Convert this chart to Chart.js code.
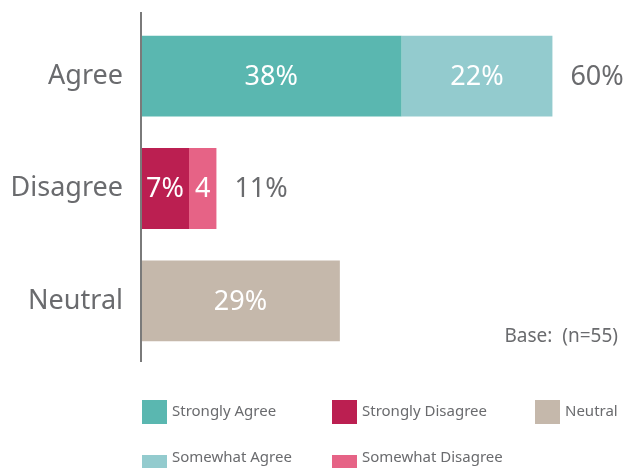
<!DOCTYPE html>
<html>
<head>
<meta charset="utf-8">
<script src="https://cdn.jsdelivr.net/npm/chart.js@4"></script>
<style>
    body { margin: 0; background: #fff; }
    #wrap { width: 638px; height: 468px; position: relative; }
</style>
</head>
<body>
<div id="wrap"><canvas id="chartAgree"></canvas></div>
<script>
const categories = ["Agree", "Disagree", "Neutral"];

// legend order (row by row): Strongly Agree, Strongly Disagree, Neutral, Somewhat Agree, Somewhat Disagree
const seriesNames = ["Strongly Agree", "Strongly Disagree", "Neutral", "Somewhat Agree", "Somewhat Disagree"];
const stronglyAgree = [38, null, null];
const stronglyDisagree = [null, 7, null];
const neutral = [null, null, 29];
const somewhatAgree = [22, null, null];
const somewhatDisagree = [null, 4, null];

// text shown inside each segment
const stronglyAgreeLabels = ["38%", "", ""];
const stronglyDisagreeLabels = ["", "7%", ""];
const neutralLabels = ["", "", "29%"];
const somewhatAgreeLabels = ["22%", "", ""];
const somewhatDisagreeLabels = ["", "4", ""];

// total shown after the bar
const totalLabels = ["60%", "11%", ""];
const baseNote = "Base:  (n=55)";

const greyText = "#6a6b6e";
const fontFamily = "'Noto Sans', 'Open Sans', sans-serif";

// stacking order inside a row: strong first, then somewhat
const datasets = [
    {label: seriesNames[0], data: stronglyAgree, segLabels: stronglyAgreeLabels, backgroundColor: "#5ab7b0", legendSlot: 0},
    {label: seriesNames[3], data: somewhatAgree, segLabels: somewhatAgreeLabels, backgroundColor: "#93cbce", legendSlot: 3},
    {label: seriesNames[1], data: stronglyDisagree, segLabels: stronglyDisagreeLabels, backgroundColor: "#bb1f51", legendSlot: 1},
    {label: seriesNames[4], data: somewhatDisagree, segLabels: somewhatDisagreeLabels, backgroundColor: "#e66386", legendSlot: 4},
    {label: seriesNames[2], data: neutral, segLabels: neutralLabels, backgroundColor: "#c5b8ab", legendSlot: 2},
];
datasets.forEach(function (ds) {
    ds.categoryPercentage = 1.0;
    ds.barPercentage = 0.72;
    ds.borderWidth = 0;
});

const labelPlugin = {
    id: "barText",
    afterDatasetsDraw: function (chart) {
        const ctx = chart.ctx;
        const area = chart.chartArea;
        ctx.save();

        // axis line, a little longer than the plot area
        ctx.strokeStyle = "#7a7a7a";
        ctx.lineWidth = 2;
        ctx.beginPath();
        ctx.moveTo(area.left, area.top - 8);
        ctx.lineTo(area.left, area.bottom + 5);
        ctx.stroke();

        // segment labels
        ctx.font = "27px " + fontFamily;
        ctx.textBaseline = "middle";
        ctx.textAlign = "center";
        ctx.fillStyle = "#ffffff";
        let ends = [];
        chart.data.datasets.forEach(function (ds, d) {
            const meta = chart.getDatasetMeta(d);
            meta.data.forEach(function (bar, i) {
                if (ds.data[i] == null) {
                    return;
                }
                if (ends[i] == null || bar.x > ends[i].x) {
                    ends[i] = {x: bar.x, y: bar.y};
                }
                if (ds.segLabels[i]) {
                    ctx.fillText(ds.segLabels[i], (bar.x + bar.base) / 2, bar.y + 1);
                }
            });
        });

        // totals
        ctx.textAlign = "left";
        ctx.fillStyle = greyText;
        for (let i = 0; i < totalLabels.length; i++) {
            if (totalLabels[i] && ends[i]) {
                ctx.fillText(totalLabels[i], ends[i].x + 18, ends[i].y + 1);
            }
        }

        // base note
        ctx.font = "19px " + fontFamily;
        ctx.textAlign = "right";
        ctx.fillText(baseNote, area.right - 3, area.bottom - 20);

        // legend, 3 columns x 2 rows
        const colX = [142, 332, 535];
        const rowY = [area.bottom + 43, area.bottom + 98];
        ctx.font = "15px " + fontFamily;
        ctx.textAlign = "left";
        chart.data.datasets.forEach(function (ds) {
            const col = ds.legendSlot % 3;
            const row = Math.floor(ds.legendSlot / 3);
            const x = colX[col];
            const y = rowY[row];
            ctx.fillStyle = ds.backgroundColor;
            ctx.fillRect(x, y, 25, 24);
            ctx.fillStyle = greyText;
            ctx.fillText(ds.label, x + 30, row === 0 ? y + 12 : y + 3);
        });
        ctx.restore();
    }
};

const ctxAgree = document.getElementById("chartAgree").getContext("2d");
const agreeChart = new Chart(ctxAgree, {
    type: "bar",
    data: {
        labels: categories,
        datasets: datasets
    },
    options: {
        indexAxis: "y",
        responsive: true,
        maintainAspectRatio: false,
        animation: false,
        layout: {
            padding: {left: 0, top: 20, right: 17, bottom: 111}
        },
        plugins: {
            legend: {display: false},
            tooltip: {enabled: false}
        },
        scales: {
            x: {
                stacked: true,
                display: false,
                min: 0,
                max: 70
            },
            y: {
                stacked: true,
                grid: {display: false, drawTicks: false},
                border: {display: false},
                ticks: {
                    padding: 18,
                    color: greyText,
                    font: {family: fontFamily, size: 27}
                },
                afterFit: function (scale) {
                    scale.width = 141;
                    scale.paddingTop = 0;
                    scale.paddingBottom = 0;
                }
            }
        }
    },
    plugins: [labelPlugin]
});
</script>
</body>
</html>
